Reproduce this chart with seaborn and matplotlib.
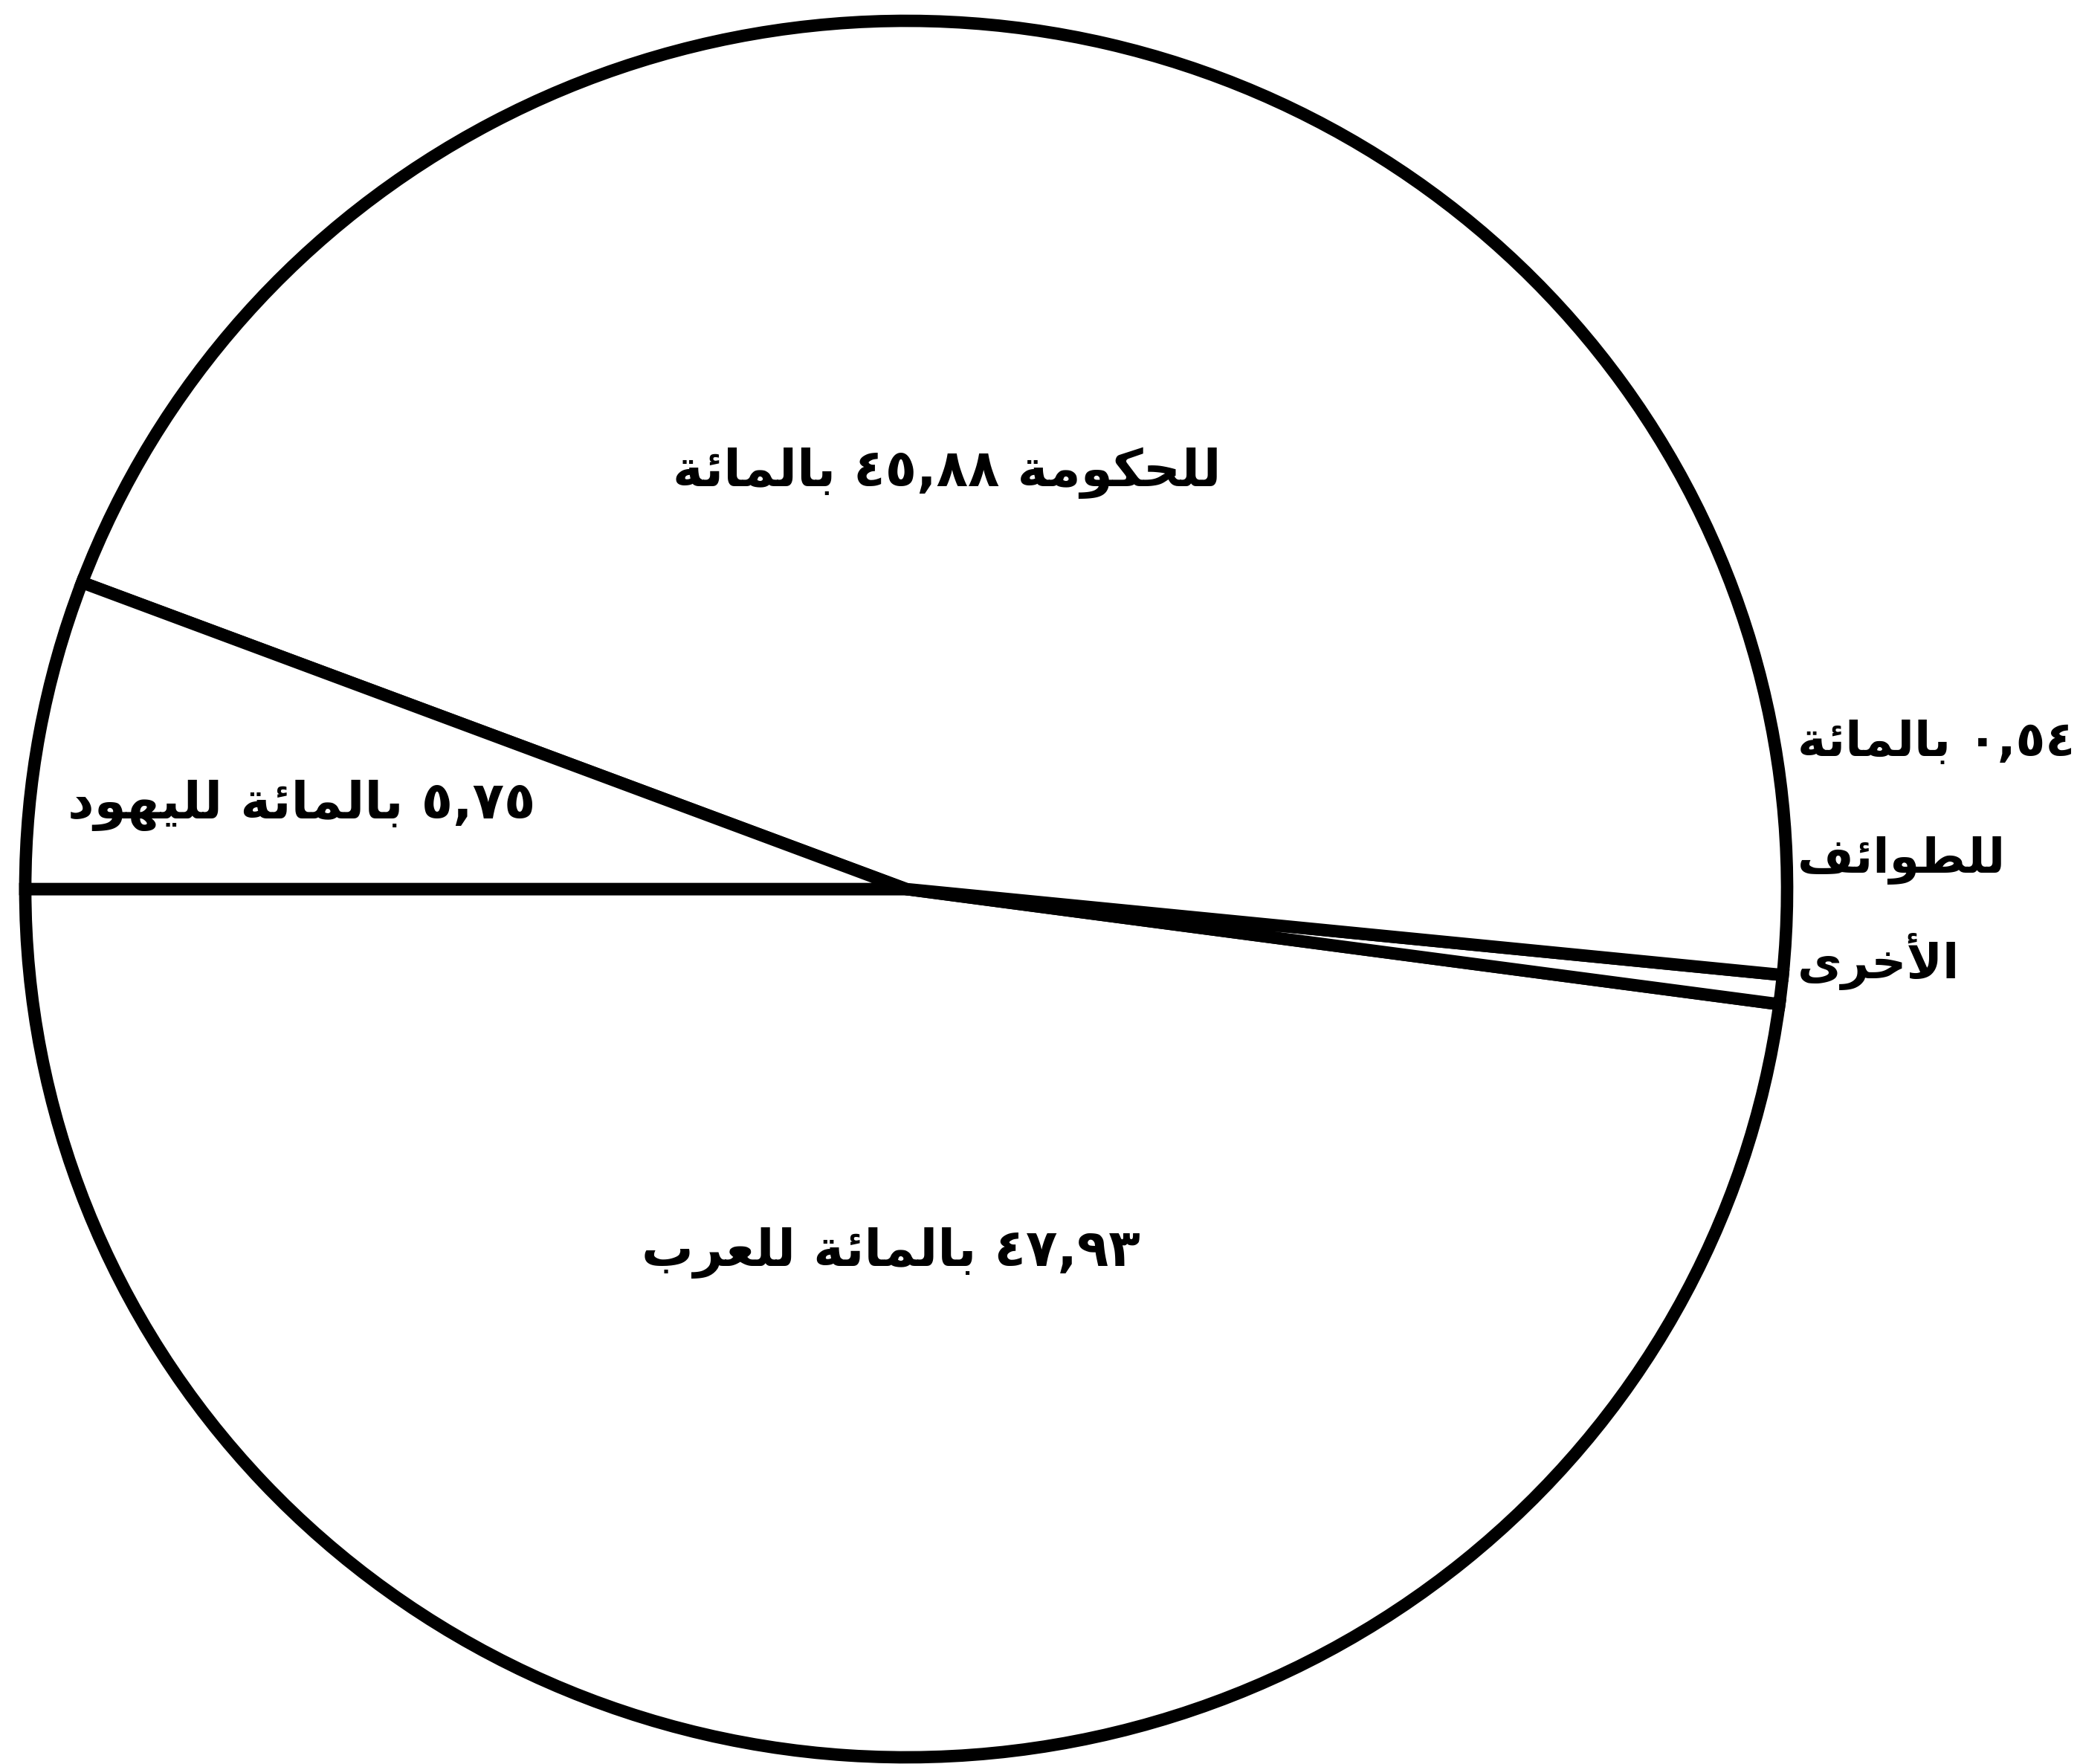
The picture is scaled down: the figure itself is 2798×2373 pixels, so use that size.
import matplotlib
matplotlib.use("Agg")
import matplotlib.pyplot as plt
import seaborn as sns

# Data: share of land (percent) per group
groups = ["للعرب", "للطوائف الأخرى", "للحكومة", "لليهود"]
shares = [47.93, 0.54, 45.88, 5.75]
pct_word = "بالمائة"

# Arabic presentation forms: (isolated, final, initial, medial)
FORMS = {
    "ا": ("\uFE8D", "\uFE8E", None, None),
    "أ": ("\uFE83", "\uFE84", None, None),
    "ب": ("\uFE8F", "\uFE90", "\uFE91", "\uFE92"),
    "ة": ("\uFE93", "\uFE94", None, None),
    "ح": ("\uFEA1", "\uFEA2", "\uFEA3", "\uFEA4"),
    "خ": ("\uFEA5", "\uFEA6", "\uFEA7", "\uFEA8"),
    "د": ("\uFEA9", "\uFEAA", None, None),
    "ر": ("\uFEAD", "\uFEAE", None, None),
    "ط": ("\uFEC1", "\uFEC2", "\uFEC3", "\uFEC4"),
    "ع": ("\uFEC9", "\uFECA", "\uFECB", "\uFECC"),
    "ف": ("\uFED1", "\uFED2", "\uFED3", "\uFED4"),
    "ك": ("\uFED9", "\uFEDA", "\uFEDB", "\uFEDC"),
    "ل": ("\uFEDD", "\uFEDE", "\uFEDF", "\uFEE0"),
    "م": ("\uFEE1", "\uFEE2", "\uFEE3", "\uFEE4"),
    "ه": ("\uFEE9", "\uFEEA", "\uFEEB", "\uFEEC"),
    "و": ("\uFEED", "\uFEEE", None, None),
    "ى": ("\uFEEF", "\uFEF0", None, None),
    "ي": ("\uFEF1", "\uFEF2", "\uFEF3", "\uFEF4"),
    "ئ": ("\uFE89", "\uFE8A", "\uFE8B", "\uFE8C"),
    "لا": ("\uFEFB", "\uFEFC", None, None),
    "لأ": ("\uFEF7", "\uFEF8", None, None),
}
ARABIC_DIGITS = str.maketrans("0123456789.", "٠١٢٣٤٥٦٧٨٩,")


def shape_word(word):
    # split into letters, merging lam-alef
    units = []
    i = 0
    while i < len(word):
        if word[i] == "ل" and i + 1 < len(word) and word[i + 1] in "اأ":
            units.append(word[i:i + 2])
            i += 2
        else:
            units.append(word[i])
            i += 1
    out = []
    for k, u in enumerate(units):
        f = FORMS[u]
        prev_joins = k > 0 and FORMS[units[k - 1]][2] is not None
        next_joins = f[2] is not None and k + 1 < len(units)
        if prev_joins and next_joins:
            out.append(f[3])
        elif prev_joins:
            out.append(f[1])
        elif next_joins:
            out.append(f[2])
        else:
            out.append(f[0])
    # visual order for a left-to-right renderer
    return "".join(reversed(out))


def visual(line):
    toks = line.split(" ")
    toks = [t if t[0] in "٠١٢٣٤٥٦٧٨٩" else shape_word(t) for t in toks]
    return " ".join(reversed(toks))


def pct(v):
    return f"{v:.2f}".translate(ARABIC_DIGITS)


sns.set_style("white")
plt.rcParams["font.family"] = ["DejaVu Sans"]

W, H = 2798, 2373
cx, cy = 1219, 1196   # pie centre in pixels
rx, ry = 1185, 1168   # radius in pixels

fig = plt.figure(figsize=(W / 100, H / 100), dpi=100)
ax = fig.add_axes([0, 0, 1, 1])
ax.pie(shares, startangle=180, counterclock=True, colors=["white"] * len(shares),
       wedgeprops=dict(edgecolor="black", linewidth=12))
ax.set_aspect("auto")
ax.set_xlim(-cx / rx, (W - cx) / rx)
ax.set_ylim(-(H - cy) / ry, cy / ry)
ax.axis("off")


def px(x, y):
    return (x - cx) / rx, (cy - y) / ry


fs = 50
kw = dict(fontsize=fs, fontweight="bold", color="black", va="center")

# government
ax.text(*px(1274, 636), visual(f"{groups[2]} {pct(shares[2])} {pct_word}"), ha="center", **kw)
# jews
ax.text(*px(406, 1084), visual(f"{pct(shares[3])} {pct_word} {groups[3]}"), ha="center", **kw)
# arabs
ax.text(*px(1198, 1686), visual(f"{pct(shares[0])} {pct_word} {groups[0]}"), ha="center", **kw)
# other sects, outside the circle
other_lines = [f"{pct(shares[1])} {pct_word}"] + groups[1].split(" ")
for line, y in zip(other_lines, [999, 1158, 1293]):
    ax.text(*px(2418, y), visual(line), ha="left", fontsize=fs - 3, fontweight="bold",
            color="black", va="center")

fig.savefig("out.png", dpi=100, facecolor="white")
